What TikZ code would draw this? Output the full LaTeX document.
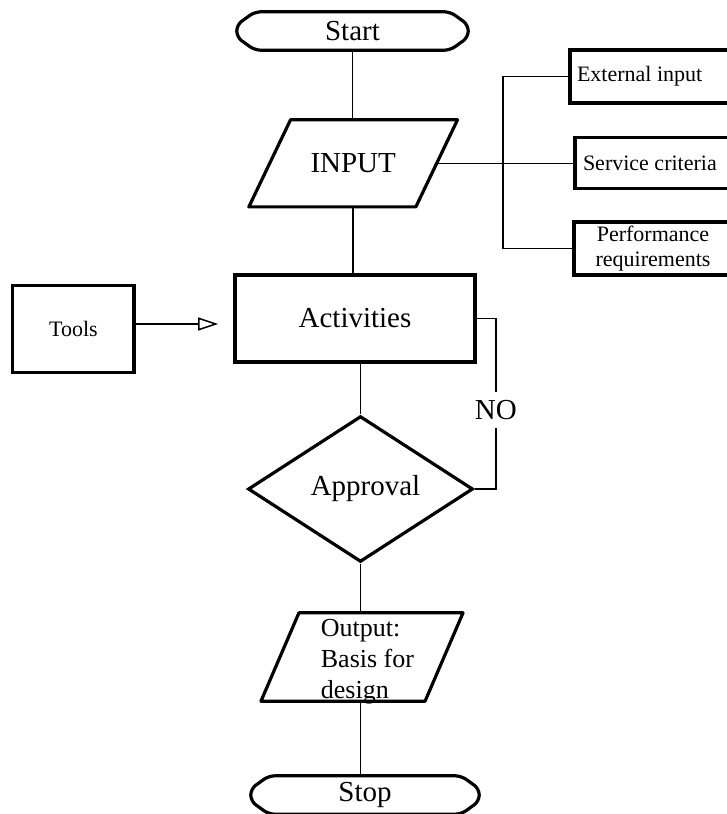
\documentclass[tikz,border=0pt]{standalone}
\usepackage{fontspec}
\setmainfont{Liberation Serif}
\usetikzlibrary{arrows.meta,shapes.geometric}

% Terminal outline (Start/Stop) drawn around an invisible node
\newcommand{\drawterminal}[1]{%
  \draw[outline, rounded corners=6pt]
    ([xshift=18pt]#1.north west) -- ([xshift=-18pt]#1.north east)
    -- ([yshift=-13pt]#1.north east) -- ([yshift=13pt]#1.south east)
    -- ([xshift=-18pt]#1.south east) -- ([xshift=18pt]#1.south west)
    -- ([yshift=13pt]#1.south west) -- ([yshift=-13pt]#1.north west) -- cycle;}
% Slanted data box: the node's east/west anchors lie on the middle of the slanted sides
\newcommand{\drawslanted}[2]{%
  \draw[outline]
    ([xshift=#2]#1.north west) -- ([xshift=#2]#1.north east)
    -- ([xshift=-#2]#1.south east) -- ([xshift=-#2]#1.south west) -- cycle;}

\begin{document}
\begin{tikzpicture}[x=1pt, y=-1pt,
  outline/.style={line width=3.2pt, line join=round},
  link/.style={line width=1.5pt},
  bigtext/.style={font=\fontsize{29}{34}\selectfont},
  smalltext/.style={font=\fontsize{22}{25}\selectfont},
  outtextstyle/.style={font=\fontsize{26}{31}\selectfont},
  hidden/.style={draw=none, rectangle, inner sep=0pt},
  box/.style={draw, rectangle, line width=3.2pt, inner sep=0pt},
]
\useasboundingbox (0,0) rectangle (726,814);

% main flow
\node[hidden, bigtext, minimum width=231pt, minimum height=38pt] (start) at (352.5,31) {Start};
\node[hidden, bigtext, minimum width=166.6pt, minimum height=86.7pt] (input) at (353.2,163.3) {INPUT};
\node[box, line width=3.8pt, bigtext, minimum width=240pt, minimum height=87pt] (act) at (355,318.5) {Activities};
\node[draw, diamond, line width=3.2pt, bigtext, inner sep=0pt, minimum width=225pt, minimum height=107pt] (appr) at (360.5,489) {\kern10pt Approval};
\node[hidden, minimum width=163.7pt, minimum height=88pt] (output) at (362,657) {};
\node[outtextstyle, anchor=west, inner sep=0pt, align=flush left] (outtext) at (320.7,662) {Output:\\Basis for\\design};
\node[hidden, bigtext, minimum width=228pt, minimum height=38pt] (stop) at (365,795) {Stop};

% input sources
\node[box, smalltext, minimum width=162pt, minimum height=53pt, text width=148pt, align=flush left] (ext) at (651,76.5) {External input};
\node[box, smalltext, minimum width=157pt, minimum height=51pt, text width=141pt, align=flush left] (svc) at (653.5,163.3) {Service criteria};
\node[box, smalltext, minimum width=158pt, minimum height=53pt, align=center] (perf) at (653,248.5) {Performance\\requirements};

% tools
\node[box, smalltext, minimum width=121.3pt, minimum height=87.7pt] (tools) at (73.4,329) {Tools};

% outlines
\drawterminal{start}
\drawslanted{input}{20.85pt}
\drawslanted{output}{19pt}
\drawterminal{stop}

% connectors
\coordinate (fork) at (503,163.3);
\draw[link] (start.south) -- (start.south |- input.north);
\draw[link] (input.south) -- (input.south |- act.north);
\draw[link] (input.east) -- (input.east -| svc.west);
\draw[link] (ext.west) -| (fork) |- (perf.west);
\draw[link, -{Triangle[open, length=20pt, width=13pt]}, shorten >=15pt]
  ([yshift=5pt]tools.east) -- ([yshift=5pt]tools.east -| act.west);
\draw[link] (appr.north |- act.south) -- (appr.north);
\draw[link] (act.east) -- ++(19,0) |- node[pos=0.268, fill=white, bigtext, inner xsep=1pt, inner ysep=8pt] (no) {NO} (appr.east);
\draw[link] (appr.south) -- (appr.south |- output.north);
\draw[link] (appr.south |- output.south) -- (appr.south |- stop.north);
\end{tikzpicture}
\end{document}
